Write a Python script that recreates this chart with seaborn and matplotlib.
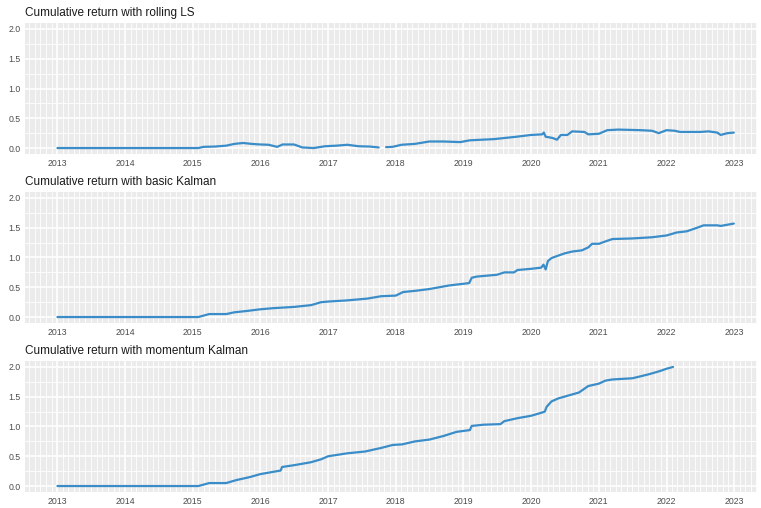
import matplotlib
matplotlib.use("Agg")
import matplotlib.pyplot as plt
import matplotlib.dates as mdates
import numpy as np
import pandas as pd
import seaborn as sns

# Cumulative return series for three pair-trading hedge-ratio estimators
rolling_ls_dates = [
    "2013-01-02", "2015-02-01", "2015-03-01", "2015-05-01", "2015-07-01",
    "2015-08-15", "2015-10-01", "2015-11-15", "2016-01-01", "2016-02-15",
    "2016-04-01", "2016-05-01", "2016-07-01", "2016-08-15", "2016-10-15",
    "2016-12-15", "2017-02-15", "2017-04-15", "2017-06-15", "2017-08-15",
    "2017-10-01", "2017-10-15", "2017-11-10", "2017-12-15", "2018-02-01",
    "2018-04-15", "2018-07-01", "2018-09-15", "2018-12-15", "2019-02-05",
    "2019-06-15", "2019-10-15", "2020-01-01", "2020-03-01", "2020-03-10",
    "2020-03-20", "2020-04-25", "2020-05-20", "2020-06-10", "2020-07-15",
    "2020-08-10", "2020-10-15", "2020-11-05", "2021-01-01", "2021-02-15",
    "2021-04-15", "2021-08-15", "2021-10-15", "2021-11-20", "2022-01-01",
    "2022-02-15", "2022-03-15", "2022-07-01", "2022-08-15", "2022-10-01",
    "2022-10-20", "2022-11-25", "2022-12-30",
]
rolling_ls_values = [
    0.0, 0.0, 0.02, 0.025, 0.04,
    0.07, 0.085, 0.07, 0.06, 0.055,
    0.02, 0.06, 0.06, 0.01, 0.0,
    0.03, 0.04, 0.055, 0.03, 0.025,
    0.01, np.nan, 0.015, 0.02, 0.055,
    0.07, 0.11, 0.11, 0.10, 0.13,
    0.15, 0.19, 0.22, 0.23, 0.26,
    0.19, 0.17, 0.14, 0.22, 0.22,
    0.28, 0.27, 0.23, 0.24, 0.30,
    0.31, 0.30, 0.29, 0.25, 0.30,
    0.29, 0.27, 0.27, 0.28, 0.26,
    0.22, 0.25, 0.26,
]

basic_kalman_dates = [
    "2013-01-02", "2015-02-01", "2015-04-01", "2015-07-01", "2015-08-15",
    "2015-10-15", "2016-01-01", "2016-03-15", "2016-07-01", "2016-10-01",
    "2016-11-25", "2017-01-01", "2017-04-15", "2017-08-01", "2017-10-15",
    "2018-01-01", "2018-02-10", "2018-04-15", "2018-07-01", "2018-10-15",
    "2019-02-01", "2019-02-15", "2019-03-15", "2019-07-01", "2019-08-10",
    "2019-10-01", "2019-10-20", "2020-01-01", "2020-02-25", "2020-03-08",
    "2020-03-20", "2020-04-01", "2020-04-20", "2020-05-25", "2020-07-01",
    "2020-08-10", "2020-10-01", "2020-11-05", "2020-11-25", "2021-01-01",
    "2021-02-05", "2021-03-15", "2021-07-01", "2021-10-15", "2022-01-01",
    "2022-02-25", "2022-04-20", "2022-06-15", "2022-07-20", "2022-10-01",
    "2022-10-20", "2022-12-30",
]
basic_kalman_values = [
    0.0, 0.0, 0.05, 0.05, 0.08,
    0.10, 0.13, 0.15, 0.17, 0.20,
    0.25, 0.26, 0.28, 0.31, 0.35,
    0.36, 0.42, 0.44, 0.47, 0.53,
    0.57, 0.66, 0.68, 0.71, 0.75,
    0.75, 0.79, 0.81, 0.83, 0.88,
    0.80, 0.94, 0.99, 1.03, 1.07,
    1.10, 1.12, 1.17, 1.23, 1.23,
    1.27, 1.31, 1.32, 1.34, 1.37,
    1.42, 1.44, 1.50, 1.54, 1.54,
    1.53, 1.57,
]

momentum_kalman_dates = [
    "2013-01-02", "2015-02-01", "2015-04-01", "2015-07-01", "2015-08-25",
    "2015-11-05", "2016-01-01", "2016-04-01", "2016-04-20", "2016-04-28",
    "2016-07-01", "2016-10-01", "2016-11-25", "2017-01-01", "2017-04-15",
    "2017-07-20", "2017-09-15", "2017-10-15", "2017-12-15", "2018-02-05",
    "2018-04-15", "2018-07-01", "2018-09-15", "2018-11-25", "2019-02-05",
    "2019-02-15", "2019-04-20", "2019-07-20", "2019-08-10", "2019-10-20",
    "2020-01-01", "2020-02-25", "2020-03-15", "2020-03-25", "2020-04-20",
    "2020-05-25", "2020-07-20", "2020-09-15", "2020-11-05", "2021-01-01",
    "2021-02-05", "2021-03-15", "2021-07-01", "2021-08-10", "2021-10-01",
    "2021-11-25", "2022-01-01", "2022-02-05",
]
momentum_kalman_values = [
    0.0, 0.0, 0.05, 0.05, 0.10,
    0.15, 0.20, 0.25, 0.26, 0.32,
    0.35, 0.40, 0.45, 0.50, 0.55,
    0.58, 0.62, 0.64, 0.69, 0.70,
    0.75, 0.78, 0.84, 0.91, 0.94,
    1.01, 1.03, 1.04, 1.09, 1.14,
    1.18, 1.23, 1.25, 1.33, 1.42,
    1.47, 1.52, 1.57, 1.68, 1.72,
    1.77, 1.79, 1.81, 1.84, 1.88,
    1.93, 1.97, 2.00,
]

titles = [
    "Cumulative return with rolling LS",
    "Cumulative return with basic Kalman",
    "Cumulative return with momentum Kalman",
]
y_ticks = [0.0, 0.5, 1.0, 1.5, 2.0]
y_tick_labels = ["0.0", "0.5", "1.0", "1.5", "2.0"]

series = [
    (rolling_ls_dates, rolling_ls_values),
    (basic_kalman_dates, basic_kalman_values),
    (momentum_kalman_dates, momentum_kalman_values),
]

sns.set_style("darkgrid", {
    "axes.facecolor": "#EBEBEB",
    "grid.color": "white",
    "axes.edgecolor": "#EBEBEB",
})
plt.rcParams["font.family"] = ["Liberation Sans", "DejaVu Sans"]

W, H = 761, 508
fig = plt.figure(figsize=(W / 100, H / 100), dpi=100)

panel_left, panel_right = 25, 757
panel_bottoms = [154, 323, 492]
panel_height = 131
line_color = "#3A8DC8"

x_lo = pd.Timestamp("2012-07-11")
x_hi = pd.Timestamp("2023-05-04")

for (dates, values), title, bottom in zip(series, titles, panel_bottoms):
    ax = fig.add_axes([
        panel_left / W, 1 - bottom / H,
        (panel_right - panel_left) / W, panel_height / H,
    ])
    df = pd.DataFrame({"date": pd.to_datetime(dates), "ret": values})
    # missing observations break the line into separate segments
    df["segment"] = df["ret"].isna().cumsum()
    df = df.dropna()
    sns.lineplot(data=df, x="date", y="ret", units="segment", ax=ax,
                 color=line_color, linewidth=1.6, estimator=None, sort=False)

    ax.set_xlim(x_lo, x_hi)
    ax.set_ylim(-0.1, 2.1)
    ax.set_yticks(y_ticks)
    ax.set_yticklabels(y_tick_labels)
    ax.yaxis.set_minor_locator(matplotlib.ticker.MultipleLocator(0.25))
    ax.xaxis.set_major_locator(mdates.YearLocator())
    ax.xaxis.set_major_formatter(mdates.DateFormatter("%Y"))
    ax.xaxis.set_minor_locator(mdates.MonthLocator())

    ax.grid(which="major", color="white", linewidth=1.2)
    ax.grid(which="minor", color="white", linewidth=0.6)
    ax.set_axisbelow(True)
    for s in ax.spines.values():
        s.set_visible(False)

    ax.tick_params(axis="both", which="major", length=2.2, width=0.6,
                   color="#333333", labelcolor="#4D4D4D", labelsize=6.3, pad=1.2)
    ax.tick_params(axis="both", which="minor", length=0)
    ax.set_xlabel("")
    ax.set_ylabel("")
    ax.set_title(title, loc="left", fontsize=8.5, color="#1A1A1A", pad=5)

fig.savefig("out.png", dpi=100, facecolor="white")
